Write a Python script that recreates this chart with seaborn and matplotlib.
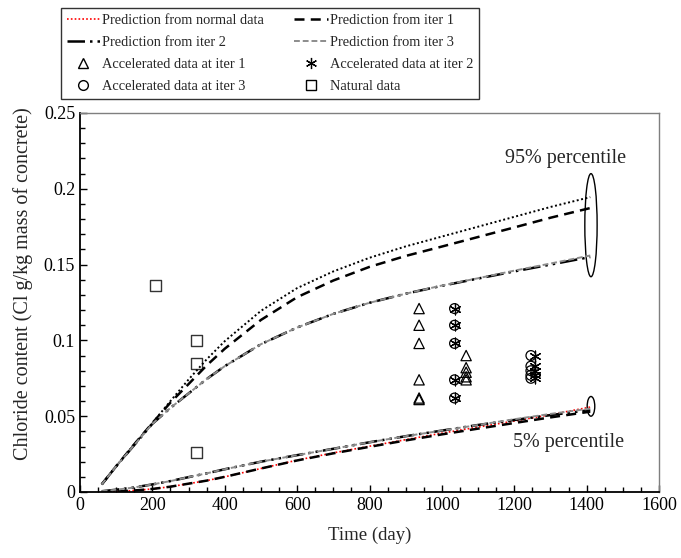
import numpy as np
import pandas as pd
import matplotlib
matplotlib.use("Agg")
import matplotlib.pyplot as plt
from matplotlib.lines import Line2D
from matplotlib.patches import Ellipse
from matplotlib.ticker import MultipleLocator
import seaborn as sns

# prediction curves
days = [60, 100, 150, 200, 250, 300, 350, 400, 500, 600, 700, 800, 900, 1000, 1100, 1200, 1300, 1410]
normal_95 = [.005, .017, .0315, .0455, .060, .0742, .0875, .0995, .1195, .1345, .1455, .1545,
             .162, .1685, .175, .1815, .188, .1945]
iter1_95 = [.005, .017, .0315, .0455, .059, .0712, .0835, .0945, .1135, .1285, .1395, .1485,
            .1557, .1619, .1682, .1745, .1809, .1873]
iter2_95 = [.005, .017, .031, .045, .0555, .065, .0745, .083, .0975, .1085, .1175, .1248,
            .1308, .136, .1408, .1455, .150, .155]
iter3_95 = [.005, .017, .031, .045, .0555, .065, .0745, .083, .0975, .1085, .1175, .1248,
            .1308, .1362, .141, .146, .1507, .156]
normal_5 = [0, .0003, .001, .002, .0035, .0055, .0075, .0100, .0155, .021, .0258, .0302,
            .0345, .0388, .0428, .0468, .0510, .056]
iter1_5 = [0, .0003, .001, .002, .0035, .0055, .0075, .0100, .0155, .0208, .0255, .0298,
           .034, .038, .0418, .0455, .0492, .053]
iter2_5 = [.0005, .0015, .003, .005, .0072, .0098, .0123, .015, .020, .0243, .0285, .0328,
           .0368, .0405, .0442, .0475, .0507, .054]
iter3_5 = [.0005, .0015, .003, .005, .0072, .0098, .0123, .015, .020, .0243, .0285, .0328,
           .0368, .0405, .0442, .048, .0515, .055]

# measured points
acc1_day = [937, 937, 937, 937, 937, 937, 1067, 1067, 1067, 1067, 1067]
acc1_val = [0.121, 0.110, 0.098, 0.074, 0.062, 0.061, 0.090, 0.082, 0.079, 0.076, 0.074]
acc2_day = [1035, 1035, 1035, 1035, 1035, 1258, 1258, 1258, 1258, 1258]
acc2_val = [0.121, 0.110, 0.098, 0.074, 0.062, 0.090, 0.083, 0.080, 0.077, 0.075]
acc3_day = [1035, 1035, 1035, 1035, 1035, 1246, 1246, 1246, 1246, 1246]
acc3_val = [0.121, 0.110, 0.098, 0.074, 0.062, 0.090, 0.083, 0.080, 0.077, 0.075]
nat_day = [209, 322, 322, 322]
nat_val = [0.136, 0.100, 0.085, 0.026]

xticks = [0, 200, 400, 600, 800, 1000, 1200, 1400, 1600]
yticks = [0, 0.05, 0.1, 0.15, 0.2, 0.25]
ytick_labels = ["0", "0.05", "0.1", "0.15", "0.2", "0.25"]

sns.set_style("ticks")
plt.rcParams['font.family'] = ['Liberation Serif', 'DejaVu Serif']

fig = plt.figure(figsize=(6.81, 5.58), dpi=100)
ax = fig.add_axes([0.1175, 0.1183, 0.8502, 0.6792])

dot = (0, (1, 1.3))
dash = (0, (4, 2.5))
dashdot = (0, (7, 2, 1, 2, 1, 2))
greydash = (0, (3, 1.5))
grey = "#8c8c8c"

sns.lineplot(x=days, y=normal_95, ax=ax, color="black", linestyle=dot, lw=1.4)
sns.lineplot(x=days, y=iter1_95, ax=ax, color="black", linestyle=dash, lw=1.8)
sns.lineplot(x=days, y=iter2_95, ax=ax, color="black", linestyle=dashdot, lw=1.8)
sns.lineplot(x=days, y=iter3_95, ax=ax, color=grey, linestyle=greydash, lw=1.4)
sns.lineplot(x=days, y=normal_5, ax=ax, color="red", linestyle=dot, lw=1.2)
sns.lineplot(x=days, y=iter1_5, ax=ax, color="black", linestyle=dash, lw=1.8)
sns.lineplot(x=days, y=iter2_5, ax=ax, color="black", linestyle=dashdot, lw=1.8)
sns.lineplot(x=days, y=iter3_5, ax=ax, color=grey, linestyle=greydash, lw=1.4)

sns.scatterplot(x=acc1_day, y=acc1_val, ax=ax, marker="^", s=55,
                facecolors="none", edgecolor="black", linewidth=0.9)
sns.scatterplot(x=acc3_day, y=acc3_val, ax=ax, marker="o", s=50,
                facecolors="none", edgecolor="black", linewidth=0.9)
sns.scatterplot(x=acc2_day, y=acc2_val, ax=ax, marker=(6, 2, 0), s=60,
                color="black", linewidth=0.9)
sns.scatterplot(x=nat_day, y=nat_val, ax=ax, marker="s", s=60,
                facecolors="none", edgecolor="#333333", linewidth=1.0)

# percentile ellipses + labels
ax.add_patch(Ellipse((1412, 0.176), 34, 0.068, fill=False, ec="black", lw=1.0))
ax.add_patch(Ellipse((1412, 0.0565), 21, 0.013, fill=False, ec="black", lw=1.0))
ax.text(1341, 0.220, "95% percentile", fontsize=14.5, ha="center", va="center")
ax.text(1351, 0.0324, "5% percentile", fontsize=14.5, ha="center", va="center")

ax.set_xlim(0, 1600)
ax.set_ylim(0, 0.25)
ax.set_xticks(xticks)
ax.set_yticks(yticks)
ax.set_yticklabels(ytick_labels)
ax.xaxis.set_minor_locator(MultipleLocator(50))
ax.yaxis.set_minor_locator(MultipleLocator(0.01))
ax.tick_params(which="both", direction="in", colors="black", labelsize=13)
ax.tick_params(which="major", length=5, width=1)
ax.tick_params(which="minor", length=3.5, width=1)
ax.set_xlabel("Time (day)", fontsize=13.5, labelpad=9)
ax.set_ylabel("Chloride content (Cl g/kg mass of concrete)", fontsize=14.5)
ax.yaxis.set_label_coords(-0.082, 0.55)
for side in ["left", "bottom"]:
    ax.spines[side].set_color("black")
    ax.spines[side].set_linewidth(1.3)
for side in ["top", "right"]:
    ax.spines[side].set_visible(True)
    ax.spines[side].set_color("#7f7f7f")
    ax.spines[side].set_linewidth(1.0)

handles = [
    Line2D([], [], color="red", linestyle=dot, lw=1.2),
    Line2D([], [], color="black", linestyle=dashdot, lw=1.8),
    Line2D([], [], ls="none", marker="^", mfc="none", mec="black", ms=7),
    Line2D([], [], ls="none", marker="o", mfc="none", mec="black", ms=7),
    Line2D([], [], color="black", linestyle=dash, lw=1.8),
    Line2D([], [], color=grey, linestyle=greydash, lw=1.4),
    Line2D([], [], ls="none", marker=(6, 2, 0), color="black", ms=8, mew=0.9),
    Line2D([], [], ls="none", marker="s", mfc="none", mec="black", ms=7.5),
]
labels = [
    "Prediction from normal data", "Prediction from iter 2",
    "Accelerated data at iter 1", "Accelerated data at iter 3",
    "Prediction from iter 1", "Prediction from iter 3",
    "Accelerated data at iter 2", "Natural data",
]
leg = fig.legend(handles, labels, ncol=2, loc="upper left",
                 bbox_to_anchor=(61 / 681, 1 - 8 / 558), fontsize=10.4,
                 frameon=True, fancybox=False, edgecolor="black", borderaxespad=0,
                 handlelength=2.3, handletextpad=0.15, columnspacing=2.1,
                 labelspacing=0.62, borderpad=0.4)
leg.get_frame().set_linewidth(1.0)

fig.savefig("out.png", dpi=100)
